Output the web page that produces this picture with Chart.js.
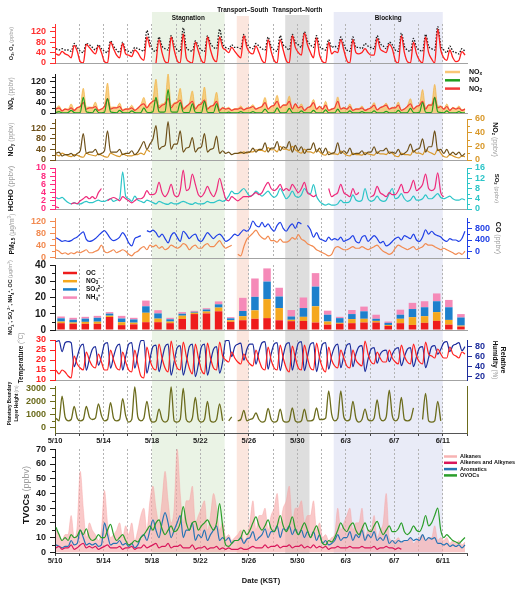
<!DOCTYPE html>
<html>
<head>
<meta charset="utf-8">
<title>Campaign time series</title>
<script src="https://cdn.jsdelivr.net/npm/chart.js@4.4.1/dist/chart.umd.min.js"></script>
<style>
  html, body { margin: 0; padding: 0; background: #fff; }
  #wrap { position: relative; width: 520px; height: 592px; overflow: hidden; }
  #wrap canvas { position: absolute; left: 0; }
</style>
</head>
<body>
<div id="wrap"></div>
<script>
// ---- Data (4 samples a day, day 0 = 5/10) ----
const N = null;
const DAYS = 34;
const HOURS = [2, 8, 14, 20];

const EPISODES = ['Stagnation', 'Transport–South', 'Transport–North', 'Blocking'];
const EPISODE_START = [8, 15, 19, 23];
const EPISODE_END = [14, 16, 21, 32];

const O3 = [
  35,30,45,35, 30,20,68,45, 5,0,72,60, 45,35,65,40,
  5,0,80,55, 30,20,75,35, 30,25,50,40, 20,10,100,60,
  N,0,90,40, 5,0,100,50, 10,0,112,20, 5,0,80,45,
  10,0,100,50, 15,5,100,60, 50,40,60,45, 30,20,105,60,
  40,35,65,40, 10,0,90,45, 10,0,90,50, 10,0,105,60,
  40,30,115,70, 40,20,97,30, 5,0,80,35, 45,40,90,50,
  10,0,90,40, 35,40,55,40, 30,30,94,55, 45,40,72,55,
  10,0,105,40, 5,0,80,35, 10,0,100,40, 15,0,130,50,
  20,10,50,20, 5,10,44,30
];
const OX = [
  55,50,55,50, 50,45,75,60, 45,40,75,70, 60,50,70,55,
  45,40,85,65, 50,40,80,50, 45,40,60,55, 50,45,125,80,
  50,45,100,65, 55,50,105,70, 50,45,135,60, 50,45,85,65,
  50,45,105,75, 60,55,130,75, 60,55,70,60, 60,55,110,75,
  60,55,75,65, 55,50,100,65, 50,45,105,70, 60,50,110,80,
  70,60,120,85, 70,60,105,65, 55,50,90,60, 65,55,100,70,
  50,45,100,60, 60,55,75,65, 60,55,105,75, 65,55,80,70,
  50,45,115,65, 50,45,95,60, 50,45,110,65, 55,50,140,70,
  50,40,65,45, 40,35,55,45
];
const NOX = [
  18,28,10,17, 15,35,13,22, 28,95,22,23, 22,42,13,17,
  30,115,22,23, 22,38,13,17, 17,30,13,20, 33,60,24,38,
  52,130,28,35, 42,150,28,40, 45,95,20,28, 38,85,19,33,
  38,100,19,28, 33,80,13,22, 17,22,12,17, 17,27,14,20,
  22,32,17,22, 28,60,18,27, 33,68,23,32, 33,65,18,37,
  22,35,12,22, 27,52,17,27, 17,45,12,17, 22,62,17,22,
  17,35,12,17, 17,27,12,17, 22,40,14,22, 27,38,17,22,
  22,42,12,17, 28,55,18,27, 34,90,19,33, 34,110,26,28,
  17,35,12,22, 17,27,12,17
];
const NO = [
  2,5,1,1, 2,10,2,1, 2,60,5,2, 1,15,2,1,
  3,55,5,2, 1,10,2,1, 1,8,2,1, 2,20,3,2,
  5,60,5,3, 5,90,5,3, 3,40,3,2, 2,35,3,2,
  2,45,3,2, 2,35,2,1, 1,3,1,1, 1,5,1,1,
  1,5,1,1, 2,15,2,1, 2,20,2,1, 2,18,2,1,
  1,8,1,1, 1,10,1,1, 1,12,1,1, 1,15,1,1,
  1,8,1,1, 1,5,1,1, 1,8,1,1, 1,6,1,1,
  1,10,1,1, 2,18,2,1, 3,40,3,2, 3,60,5,2,
  1,8,1,1, 1,5,1,1
];
const NO2 = [
  15,20,8,15, 12,20,10,20, 25,40,15,20, 20,25,10,15,
  25,55,15,20, 20,25,10,15, 15,20,10,18, 30,35,20,35,
  45,50,20,30, 35,55,20,35, 40,50,15,25, 35,45,15,30,
  35,50,15,25, 30,45,10,20, 15,18,10,15, 15,20,12,18,
  20,25,15,20, 25,40,15,25, 30,45,20,30, 30,45,15,35,
  20,25,10,20, 25,40,15,25, 15,30,10,15, 20,45,15,20,
  15,25,10,15, 15,20,10,15, 20,30,12,20, 25,30,15,20,
  20,30,10,15, 25,35,15,25, 30,45,15,30, 30,60,20,25,
  15,25,10,20, 15,20,10,15
];
const NOY = [
  25,30,15,20, 20,25,15,25, 35,100,25,30, 30,40,20,25,
  35,110,30,30, 30,40,20,25, 25,35,20,30, 50,70,40,60,
  80,130,40,50, 55,145,40,60, 60,110,30,45, 50,85,30,45,
  50,100,30,40, 45,90,25,35, 25,30,20,25, 25,30,25,30,
  30,45,30,40, 40,65,30,45, 45,70,35,50, 45,70,30,55,
  35,50,25,40, 40,65,30,45, 25,45,20,25, 30,65,25,35,
  25,45,20,25, 25,35,20,30, 30,50,25,35, 35,45,25,30,
  25,40,20,25, 35,60,30,40, 45,80,30,50, 50,110,35,40,
  25,40,20,30, 20,30,15,25
];
const NOZ = [
  8,6,10,8, 6,5,8,7, 5,4,10,8, 7,6,9,7,
  5,4,10,8, 6,5,9,7, 6,6,8,8, 10,8,15,12,
  N,N,N,N, N,N,N,N, N,N,N,N, N,N,N,N,
  N,N,N,N, N,N,N,N, N,N,N,N, 10,10,12,10,
  12,12,15,14, 14,12,18,15, 15,12,20,16, 16,14,20,15,
  12,10,16,12, 12,10,15,12, 8,7,12,9, 9,8,13,10,
  7,6,10,8, 8,7,11,9, 8,7,12,9, 9,8,12,10,
  6,5,10,8, 8,7,14,10, 10,8,15,12, 10,8,16,10,
  5,4,8,6, 4,3,6,5
];
const HCHO = [
  0.5,0.3,N,N, N,1.2,1.5,1.3, 2.0,2.5,3.0,2.5, 3.0,2.5,4.0,5.0,
  N,2.0,2.5,2.8, 2.5,2.0,3.0,2.5, 2.0,1.5,2.0,2.5, 2.5,3.0,4.5,3.5,
  3.5,4.0,6.5,4.0, 3.0,4.0,6.0,3.5, 3.0,4.5,9.5,4.5, 5.0,8.5,6.0,3.5,
  3.0,4.0,5.5,4.0, 3.0,4.5,7.5,5.0, 2.5,2.0,3.0,2.5, 2.0,2.5,3.0,3.0,
  3.0,3.5,4.0,3.5, 4.0,5.5,6.5,5.0, 4.5,5.0,6.0,4.5, 5.0,4.5,6.0,5.0,
  4.0,5.0,6.5,4.0, 3.5,3.0,3.5,N, N,N,5.0,3.0, 3.5,4.0,6.0,4.0,
  3.5,3.0,5.0,3.5, 4.0,N,N,N, 3.0,3.5,5.5,4.0, 3.5,3.0,4.0,3.5,
  3.5,4.5,6.0,4.0, 4.0,5.0,7.0,4.5, 5.0,6.0,8.5,5.0, 4.5,5.0,8.8,4.0,
  3.0,N,N,N, N,N,N,N
];
const SO2 = [
  4.5,4.0,4.5,3.5, 2.5,2.0,2.5,2.0, 2.0,2.5,3.0,2.5, 2.5,3.0,3.5,3.0,
  3.0,3.5,4.0,3.0, 3.5,4.0,14.5,5.0, 4.0,3.0,5.0,3.5, 3.0,2.5,3.5,3.0,
  2.5,2.0,3.0,2.5, 2.0,1.8,2.5,2.0, 2.0,2.5,3.0,2.5, 2.0,1.8,2.5,2.0,
  2.0,2.2,3.0,2.5, 2.5,3.0,3.5,3.0, 3.5,5.0,7.0,6.0, 6.0,7.0,8.0,6.5,
  5.0,5.5,7.0,6.0, 5.0,6.0,7.0,5.5, 4.5,5.5,8.0,6.0, 4.0,5.0,7.0,5.0,
  4.5,5.5,8.0,6.5, 6.0,9.5,5.0,3.0, 2.0,1.5,2.0,1.5, 1.5,2.0,3.5,2.5,
  2.5,3.0,5.5,3.5, 3.0,3.5,8.0,4.0, 3.0,3.5,5.0,3.5, 3.0,3.5,6.0,8.0,
  4.0,4.5,6.0,4.0, 3.0,3.5,5.0,3.5, 3.5,4.0,5.5,4.0, 4.0,5.0,6.0,4.5,
  4.0,4.5,5.0,4.0, 3.5,3.5,4.0,3.5
];
const PM25 = [
  25,20,12,15, 10,15,12,18, 15,20,25,15, 15,20,25,40,
  20,15,20,25, 15,20,25,20, 10,5,15,20, 30,35,25,40,
  35,40,30,35, 25,30,40,35, 30,35,45,40, 25,35,40,30,
  30,40,45,35, 35,45,55,40, 30,35,40,N, 10,5,35,60,
  70,80,90,75, 65,60,70,55, 55,50,60,50, 50,55,65,60,
  75,60,55,45, 40,35,25,20, 15,10,5,10, 30,35,30,25,
  25,30,35,30, 30,35,30,25, 30,35,40,30, 20,15,10,15,
  30,40,35,30, 25,30,35,25, 30,35,45,40, 40,35,30,25,
  30,25,20,15, 10,15,10,20
];
const CO = [
  480,420,350,380, 350,380,450,500, 600,680,420,350, 380,450,550,650,
  720,600,450,380, 420,500,650,520, 300,200,450,500, 550,N,720,680,
  740,650,500,600, 450,300,550,650, 500,350,700,600, 450,550,600,400,
  350,500,650,550, 450,550,600,500, 350,400,500,600, 550,650,750,700,
  800,1050,900,850, 1000,850,950,800, 700,900,1000,800, 700,850,950,800,
  1000,950,N,900, 750,500,650,450, 400,350,500,400, 450,400,500,350,
  400,450,550,350, 300,500,550,350, 450,550,450,300, 350,200,250,350,
  450,500,400,550, 500,450,600,400, 350,500,750,600, 700,600,550,500,
  400,350,450,400, 400,350,450,700
];
// daily aerosol composition (ug/m3), one bar per day
const OC  = [4.2,3.8,3.8,3.8,8.0,3.0,3.5,4.8,4.8,4.2,6.8,9.8,10.2,11.5,5.0,6.0,6.9,7.3,6.0,5.4,5.6,4.6,3.3,3.8,4.2,4.6,4.6,2.5,4.2,3.1,4.4,5.6,3.3,2.1];
const NO3 = [1.0,0.8,1.2,1.3,0.8,1.8,1.0,5.8,2.2,1.0,2.0,0.8,1.2,2.3,1.0,2.5,5.2,11.7,7.5,0.9,2.5,10.0,1.9,0.6,2.5,2.3,1.0,0.6,2.7,4.8,4.1,5.4,2.9,0.6];
const SO4 = [2.0,1.7,2.0,2.4,1.3,2.3,2.0,4.0,3.2,1.4,1.2,0.6,1.2,2.0,1.2,3.2,8.3,10.8,7.1,2.0,5.4,12.1,4.2,2.9,3.1,4.6,1.3,1.3,2.5,5.0,5.5,6.7,7.8,5.0];
const NH4 = [1.1,1.2,1.1,1.2,0.9,1.6,1.0,3.5,2.0,0.9,1.0,0.6,0.8,1.8,0.7,8.1,11.3,8.1,5.4,4.0,6.5,8.3,2.5,0.8,2.5,2.9,2.5,0.8,3.1,3.8,3.7,4.8,4.5,2.1];

const TEMP = [
  15,13,15,14, 12,11,22,18, 16,15,24,20, 17,16,23,19,
  15,15,25,20, 16,15,24,19, 15,14,25,18, 12,11,26.5,20,
  16,15,28,21, 16,14,29.5,21, 16,15,29,22, 16,13,28,21,
  15,13,28.5,21, 16,15,29,22, 20,19,24,21, 19,18,23,20,
  18,17,25,20, 16,15,26.5,20, 16,15,27.5,21, 16,14,27,21,
  16,15,27.5,21, 16,15,28.5,21, 16,14,26.5,20, 17,16,25,21,
  17,16,25,20, 18,17,29.5,23, 19,18,24,21, 19,19,25,21,
  19,18,27.5,22, 19,18,28,22, 19,18,29,23, 22,21,25.5,23,
  21,21,26.5,23, 22,21,24,23
];
const RH = [
  90,92,70,88, 90,88,40,60, 80,85,33,55, 75,80,43,60,
  85,88,37,60, 80,85,33,60, 85,88,37,65, 92,93,27,55,
  80,83,30,55, 80,85,23,50, 78,82,23,48, 80,85,20,45,
  80,85,23,50, 75,80,27,50, 92,93,60,80, 85,87,53,75,
  85,85,45,70, 88,90,35,65, 85,88,32,62, 85,88,33,62,
  87,90,32,60, 85,88,30,60, 85,88,35,62, 80,85,38,62,
  83,86,40,65, 80,82,30,55, 75,78,47,65, 72,73,50,65,
  75,78,42,60, 75,78,40,60, 78,80,38,58, 80,82,65,75,
  88,90,70,82, 85,88,72,80
];
const PBLH = [
  700,500,2400,800, 500,600,1600,700, 500,600,1600,800, 600,700,1800,900,
  500,600,1900,700, 500,600,2200,900, 400,600,3100,800, 500,700,2000,700,
  400,500,1400,600, 400,600,3100,500, 400,600,3000,600, 400,700,2300,600,
  400,600,2000,500, 400,600,1800,500, N,500,800,N, 500,600,1300,500,
  600,700,1100,600, 400,500,1450,600, 400,500,1400,500, 400,500,1500,500,
  400,500,1400,500, 500,600,1500,600, 600,700,2800,1000, 500,700,2800,800,
  500,600,2000,700, 400,600,1400,600, 500,700,2100,700, 500,800,2850,900,
  500,700,2300,600, 500,600,1500,N, N,600,2600,500, 400,500,2000,500,
  N,N,N,N, N,N,N,N
];
const ALKANES = [
  15,12,8,12, 12,25,10,18, 55,30,10,20, 15,12,8,15,
  42,20,10,12, 15,20,10,18, 12,20,8,15, 25,30,15,35,
  45,30,20,35, 55,35,20,30, 70,40,20,35, 35,45,20,25,
  30,35,15,25, 40,30,15,20, 10,12,8,10, 12,15,8,10,
  20,35,15,25, 25,30,15,25, 30,40,20,30, 35,45,20,30,
  30,35,20,25, 25,35,15,20, 10,12,8,10, 12,30,15,20,
  25,30,15,20, 20,30,10,15, 15,25,10,15, 20,40,10,8,
  8,10,6,8, 8,10,6,8, 10,12,8,10, 10,18,8,10,
  8,10,6,8, 6,8,5,7
];
const ALKENES = [
  3,4,2,3, 3,5,2,3, 5,6,3,4, 3,4,2,3,
  4,5,3,3, 3,4,2,3, 3,4,2,3, 3,5,3,4,
  5,6,3,4, 4,6,3,4, 4,5,3,3, 3,5,2,3,
  3,4,2,3, 3,4,2,3, 2,3,2,2, 2,3,2,2,
  3,4,3,3, 3,5,3,4, 4,5,3,4, 4,5,3,4,
  4,5,3,4, 3,5,3,4, 3,4,2,3, 3,4,3,3,
  3,4,3,3, 3,4,3,3, 3,4,2,3, 3,4,3,3,
  2,3,2,N, N,N,N,N, N,N,N,N, N,N,N,N,
  N,N,N,N, N,N,N,N
];
const AROMATICS = [
  5,4,3,4, 4,8,5,6, 15,10,5,6, 5,6,4,5,
  20,12,5,6, 6,8,5,6, 4,6,3,5, 10,12,8,15,
  22,15,10,20, 27,20,10,15, 20,25,10,15, 15,20,8,12,
  10,15,8,12, 15,18,8,10, 8,10,6,8, 8,10,6,9,
  10,14,8,10, 12,16,10,14, 14,18,10,16, 15,18,12,16,
  12,15,10,14, 10,14,8,12, 6,8,5,6, 8,12,8,10,
  10,14,8,12, 10,15,8,12, 10,14,8,10, 8,12,6,8,
  6,8,7,8, 8,10,8,9, 8,12,8,10, 9,10,6,6,
  5,6,4,5, 4,5,3,5
];
const OVOCS = [
  17,12,8,10, 8,12,10,11, 15,12,16,10, 8,9,12,10,
  10,15,19,12, 8,10,12,8, 5,6,8,7, 10,12,15,18,
  15,20,22,16, 12,15,18,14, 15,20,31,20, 15,20,21,15,
  18,20,22,18, 15,20,33,18, 5,4,6,8, 8,10,15,12,
  15,20,24,18, 15,18,22,16, 14,18,25,18, 14,18,24,16,
  12,16,20,15, 10,14,18,12, 6,5,8,7, 10,15,20,16,
  14,18,20,15, 12,16,20,15, 14,18,21,16, 12,15,18,14,
  14,16,20,14, 12,14,18,15, 14,18,25,18, 20,25,30,15,
  10,12,10,8, 7,6,8,10
];

// ---- Layout & style ----
const FONT = "'Liberation Sans', Arial, Helvetica, sans-serif";
const PAGE_W = 520, PAGE_H = 592;
const LEFT_W = 55, RIGHT_W = 53;
const PAD_T = 14, PAD_B = 12;
const X_MIN = 0, X_MAX = DAYS;
const INK = '#111111', UNIT_GRAY = '#9a9a9a', BASELINE = '#a3a3a3', DASH_GRAY = '#b3b3b3';
const BAND_BOTTOM = 553;
const EPISODE_STYLE = [
  { fill: '#eaf3e5', top: 12, labelY: 18.5 },
  { fill: '#fbe6de', top: 16, labelY: 10.5 },
  { fill: '#dedede', top: 15, labelY: 10.5 },
  { fill: '#e9ebf7', top: 12, labelY: 18.5 }
];

Chart.defaults.font.family = FONT;
Chart.defaults.font.weight = 'bold';

const wrap = document.getElementById('wrap');

function dayOf(i) {
  return Math.floor(i / HOURS.length) + HOURS[i % HOURS.length] / 24;
}
function pts(arr) {
  return arr.map((v, i) => ({ x: dayOf(i), y: v }));
}
function dateLabel(d) {
  const t = new Date(2024, 4, 10 + d);
  return (t.getMonth() + 1) + '/' + t.getDate();
}
function isMajor(v, step) {
  return Math.abs(v / step - Math.round(v / step)) < 1e-6;
}

// rich text: _x / _{..} subscript, ^x / ^{..} superscript
function parseRich(str) {
  const out = [];
  let buf = '', i = 0;
  while (i < str.length) {
    const ch = str[i];
    if (ch === '_' || ch === '^') {
      if (buf) { out.push({ t: buf, m: '' }); buf = ''; }
      let t;
      if (str[i + 1] === '{') { const j = str.indexOf('}', i); t = str.slice(i + 2, j); i = j + 1; }
      else { t = str[i + 1]; i += 2; }
      out.push({ t, m: ch });
    } else { buf += ch; i++; }
  }
  if (buf) out.push({ t: buf, m: '' });
  return out;
}
function richRun(str, weight, color) {
  return parseRich(str).map(s => ({ ...s, w: weight, c: color }));
}
function segFont(s, size) {
  return `${s.w} ${s.m ? size * 0.68 : size}px ${FONT}`;
}
function richWidth(ctx, segs, size) {
  return segs.reduce((w, s) => { ctx.font = segFont(s, size); return w + ctx.measureText(s.t).width; }, 0);
}
function drawRich(ctx, segs, x, y, size) {
  ctx.textAlign = 'left';
  ctx.textBaseline = 'middle';
  segs.forEach(s => {
    ctx.font = segFont(s, size);
    ctx.fillStyle = s.c;
    const dy = s.m === '_' ? size * 0.28 : s.m === '^' ? -size * 0.32 : 0;
    ctx.fillText(s.t, x, y + dy);
    x += ctx.measureText(s.t).width;
  });
}

// ---- Plugins ----
const minorTicksPlugin = {
  id: 'minorTicks',
  afterDraw(chart) {
    const ctx = chart.ctx;
    Object.values(chart.scales).forEach(s => {
      const o = s.$spec;
      if (!o || !o.minor) return;
      const right = s.position === 'right';
      const edge = right ? s.left : s.right;
      ctx.save();
      ctx.strokeStyle = o.color;
      ctx.lineWidth = 1;
      for (let v = Math.ceil(o.min / o.minor - 1e-9) * o.minor; v <= o.max + 1e-9; v += o.minor) {
        if (isMajor(v, o.major)) continue;
        const y = Math.round(s.getPixelForValue(v)) + 0.5;
        ctx.beginPath();
        ctx.moveTo(edge, y);
        ctx.lineTo(edge + (right ? 3 : -3), y);
        ctx.stroke();
      }
      ctx.restore();
    });
  }
};

function titlesPlugin(lines) {
  return {
    id: 'axisTitles',
    afterDraw(chart) {
      const { ctx, chartArea } = chart;
      const cy = (chartArea.top + chartArea.bottom) / 2;
      lines.forEach(l => {
        const segs = richRun(l.name, 'bold', INK);
        if (l.unit) segs.push(...richRun(' ' + l.unit, 'normal', UNIT_GRAY));
        const w = richWidth(ctx, segs, l.size);
        ctx.save();
        ctx.translate(l.x, cy + (l.dy || 0));
        ctx.rotate(l.side === 'right' ? Math.PI / 2 : -Math.PI / 2);
        drawRich(ctx, segs, -w / 2, 0, l.size);
        ctx.restore();
      });
    }
  };
}

function legendPlugin(spec, canvasTop) {
  return {
    id: 'richLegend',
    afterDraw(chart) {
      const ctx = chart.ctx;
      spec.items.forEach((di, k) => {
        const ds = chart.data.datasets[di];
        const y = spec.y - canvasTop + k * spec.dy;
        ctx.save();
        ctx.strokeStyle = ds.legendColor || ds.borderColor || ds.backgroundColor;
        ctx.lineWidth = spec.lw;
        ctx.beginPath();
        ctx.moveTo(spec.x, y);
        ctx.lineTo(spec.x + spec.len, y);
        ctx.stroke();
        drawRich(ctx, richRun(ds.label, 'bold', INK), spec.x + spec.len + spec.gap, y, spec.size);
        ctx.restore();
      });
    }
  };
}

const episodePlugin = {
  id: 'episodes',
  beforeDraw(chart) {
    const ctx = chart.ctx;
    const xs = chart.scales.x;
    EPISODES.forEach((name, i) => {
      const st = EPISODE_STYLE[i];
      const x0 = xs.getPixelForValue(EPISODE_START[i]);
      const x1 = xs.getPixelForValue(EPISODE_END[i]);
      ctx.fillStyle = st.fill;
      ctx.fillRect(x0, st.top, x1 - x0, BAND_BOTTOM - st.top);
      ctx.font = `bold 6.4px ${FONT}`;
      ctx.fillStyle = INK;
      ctx.textAlign = 'center';
      ctx.textBaseline = 'middle';
      ctx.fillText(name, (x0 + x1) / 2, st.labelY);
    });
  }
};

// ---- Scales ----
function xScale(mode, stacked) {
  const labels = mode !== 'none';
  return {
    type: 'linear', min: X_MIN, max: X_MAX, offset: false, stacked: !!stacked,
    afterBuildTicks(s) {
      const t = [];
      for (let v = X_MIN; v <= X_MAX; v += 2) t.push({ value: v });
      s.ticks = t;
    },
    afterFit(s) { s.height = mode === 'none' ? 0 : (mode === 'dates' ? 14 : 36); },
    ticks: {
      display: labels, autoSkip: false, maxRotation: 0, padding: 0, color: '#222',
      font: { size: 7.5, weight: 'bold' },
      callback: v => (v % 4 === 0 && v < X_MAX ? dateLabel(v) : '')
    },
    grid: {
      offset: false, drawTicks: labels, tickLength: 3, tickColor: '#444', lineWidth: 1,
      color: c => (c.tick && c.tick.value > X_MIN && c.tick.value < X_MAX ? DASH_GRAY : 'rgba(0,0,0,0)')
    },
    border: { display: true, color: labels ? '#555' : BASELINE, width: 1, dash: [2, 2] },
    title: mode === 'title'
      ? { display: true, text: 'Date (KST)', color: INK, font: { size: 7.5, weight: 'bold' }, padding: { top: 0, bottom: 4 } }
      : { display: false }
  };
}

function yScale(o, side) {
  const right = side === 'right';
  return {
    type: 'linear', position: side, min: o.min, max: o.max, stacked: !!o.stacked,
    afterBuildTicks(s) {
      s.$spec = o;
      const t = [];
      if (o.bare) t.push({ value: o.min });
      else for (let v = Math.ceil(o.min / o.major - 1e-9) * o.major; v <= o.max + 1e-9; v += o.major) t.push({ value: Math.round(v * 1e6) / 1e6 });
      s.ticks = t;
    },
    afterFit(s) { s.width = right ? RIGHT_W : LEFT_W; },
    ticks: {
      display: !o.bare, autoSkip: false, padding: right ? 3 : 4, color: o.color,
      font: { size: o.font || 9, weight: 'bold' },
      callback: v => String(v)
    },
    grid: { drawOnChartArea: false, drawTicks: !o.bare, tickLength: 5, tickColor: o.color, color: o.color },
    border: { display: true, color: o.color, width: 1 }
  };
}

// ---- Datasets ----
function line(label, arr, color, extra) {
  return Object.assign({
    type: 'line', label, data: pts(arr), borderColor: color, backgroundColor: color,
    yAxisID: 'y', fill: false, spanGaps: false, borderWidth: 1.2, pointRadius: 0,
    cubicInterpolationMode: 'monotone'
  }, extra || {});
}
function bars(label, arr, color) {
  return {
    type: 'bar', label, data: arr.map((v, d) => ({ x: d + 0.5, y: v })),
    backgroundColor: color, borderWidth: 0, categoryPercentage: 1, barPercentage: 0.62, yAxisID: 'y'
  };
}

// ---- Panels ----
function addPanel(p) {
  const xh = p.x === 'dates' ? 14 : p.x === 'title' ? 36 : 0;
  const canvasTop = p.top - PAD_T;
  const cv = document.createElement('canvas');
  cv.width = PAGE_W;
  cv.height = p.bottom - p.top + PAD_T + PAD_B + xh;
  cv.style.top = canvasTop + 'px';
  wrap.appendChild(cv);

  const scales = { x: xScale(p.x || 'none', p.type === 'bar'), y: yScale(p.left, 'left') };
  if (p.right) scales.y2 = yScale(p.right, 'right');

  const plugins = [minorTicksPlugin, titlesPlugin(p.titles)];
  if (p.legend) plugins.push(legendPlugin(p.legend, canvasTop));

  return new Chart(cv, {
    type: p.type || 'line',
    data: { datasets: p.datasets },
    options: {
      responsive: false, animation: false, devicePixelRatio: 1,
      layout: { padding: { left: 0, right: p.right ? 0 : RIGHT_W, top: PAD_T, bottom: PAD_B } },
      plugins: { legend: { display: false }, tooltip: { enabled: false } },
      elements: { point: { radius: 0 } },
      scales
    },
    plugins
  });
}

// background bands spanning all panels
(function addBackdrop() {
  const cv = document.createElement('canvas');
  cv.width = PAGE_W;
  cv.height = PAGE_H;
  cv.style.top = '0px';
  wrap.appendChild(cv);
  new Chart(cv, {
    type: 'line',
    data: { datasets: [] },
    options: {
      responsive: false, animation: false, devicePixelRatio: 1,
      layout: { padding: { left: LEFT_W, right: RIGHT_W, top: 0, bottom: 0 } },
      plugins: { legend: { display: false }, tooltip: { enabled: false } },
      scales: {
        x: { type: 'linear', min: X_MIN, max: X_MAX, display: false },
        y: { type: 'linear', min: 0, max: 1, display: false }
      }
    },
    plugins: [episodePlugin]
  });
})();

// O3 / Ox
addPanel({
  top: 24, bottom: 63,
  left: { min: 0, max: 150, major: 40, minor: 20, color: '#ff3030' },
  titles: [{ x: 11, name: 'O_3, O_x', unit: '(ppbv)', size: 5.6 }],
  datasets: [
    line('O_3', O3, '#ff1f1f', { order: 0, borderWidth: 1.3 }),
    line('O_x', OX, '#1a1a1a', { order: 1, borderDash: [1.5, 1.5], borderWidth: 1.3 })
  ]
});

// NOx / NO / NO2
addPanel({
  top: 74, bottom: 113,
  left: { min: 0, max: 150, major: 40, minor: 20, color: '#1a1a1a' },
  titles: [{ x: 11, name: 'NO_x', unit: '(ppbv)', size: 6.5 }],
  legend: { items: [0, 1, 2], x: 445, y: 72, dy: 8.3, len: 15, gap: 9, size: 7, lw: 2.5 },
  datasets: [
    line('NO_x', NOX, 'rgba(242,176,64,0.85)', { order: 3, fill: 'origin', backgroundColor: 'rgba(247,190,88,0.72)', borderWidth: 0.8, legendColor: '#f8c676' }),
    line('NO', NO, '#1f9e1f', { order: 0 }),
    line('NO_2', NO2, '#f23a3a', { order: 1 })
  ]
});

// NOy / NOz
addPanel({
  top: 119, bottom: 160,
  left: { min: 0, max: 155, major: 40, minor: 20, color: '#6e5019' },
  right: { min: 0, max: 60, major: 20, minor: 10, color: '#d9992b' },
  titles: [
    { x: 11, name: 'NO_y', unit: '(ppbv)', size: 6.8 },
    { x: 495, side: 'right', name: 'NO_z', unit: '(ppbv)', size: 7 }
  ],
  datasets: [
    line('NO_y', NOY, '#6e5019', { order: 0 }),
    line('NO_z', NOZ, '#d9992b', { order: 1, yAxisID: 'y2' })
  ]
});

// HCHO / SO2
addPanel({
  top: 168, bottom: 209,
  left: { min: 0, max: 10, major: 2, minor: 1, color: '#ff2a7f' },
  right: { min: 0, max: 16, major: 4, minor: 2, color: '#2cc5c8' },
  titles: [
    { x: 11, name: 'HCHO', unit: '(ppbv)', size: 7.5 },
    { x: 497, side: 'right', name: 'SO_2', unit: '(ppbv)', size: 6 }
  ],
  datasets: [
    line('HCHO', HCHO, '#ee2a7b', { order: 0 }),
    line('SO_2', SO2, '#2cc5c8', { order: 1, yAxisID: 'y2' })
  ]
});

// PM2.5 / CO
addPanel({
  top: 218, bottom: 258,
  left: { min: -2.3, max: 130, major: 40, minor: 20, color: '#f28a50' },
  right: { min: -215, max: 1152, major: 400, minor: 200, color: '#1f3fe6' },
  titles: [
    { x: 12, name: 'PM_{2.5}', unit: '(μg/m^3)', size: 6.8, dy: -4 },
    { x: 498, side: 'right', name: 'CO', unit: '(ppbv)', size: 7 }
  ],
  datasets: [
    line('PM_{2.5}', PM25, '#f28a50', { order: 1 }),
    line('CO', CO, '#1f3fe6', { order: 0, yAxisID: 'y2' })
  ]
});

// aerosol composition
addPanel({
  type: 'bar',
  top: 265, bottom: 330,
  left: { min: 0, max: 40, major: 10, minor: 5, color: '#1a1a1a', stacked: true, font: 10 },
  titles: [{ x: 11, name: 'NO_3^−, SO_4^{2−}, NH_4^+, OC', unit: '(μg/m^3)', size: 5.4 }],
  legend: { items: [0, 1, 2, 3], x: 63, y: 273, dy: 8.2, len: 14, gap: 9, size: 6.5, lw: 2.5 },
  datasets: [
    bars('OC', OC, '#ee1c1c'),
    bars('NO_3^−', NO3, '#f5a81e'),
    bars('SO_4^{2−}', SO4, '#1d80cc'),
    bars('NH_4^+', NH4, '#f58ab8')
  ]
});

// temperature / RH
addPanel({
  top: 340, bottom: 380,
  left: { min: 10, max: 30, major: 5, color: '#ff2020' },
  right: { min: 13.4, max: 93.4, major: 20, color: '#1c2c9c' },
  titles: [
    { x: 21, name: 'Temperature', unit: '(°C)', size: 6.3, dy: -2 },
    { x: 503, side: 'right', name: 'Relative', size: 7 },
    { x: 495, side: 'right', name: 'Humidity', unit: '(%)', size: 6.3 }
  ],
  datasets: [
    line('Temperature', TEMP, '#ff2020', { order: 0 }),
    line('RH', RH, '#1c2c9c', { order: 1, yAxisID: 'y2' })
  ]
});

// PBLH
addPanel({
  top: 386, bottom: 433, x: 'dates',
  left: { min: -438, max: 3177, major: 1000, minor: 500, color: '#6b6b1c' },
  right: { min: 0, max: 1, bare: true, color: '#6b6b1c' },
  titles: [
    { x: 10, name: 'Planetary Boundary', size: 4.6, dy: -6 },
    { x: 17, name: 'Layer Height', unit: '(m)', size: 4.6, dy: -6 }
  ],
  datasets: [line('PBLH', PBLH, '#6b6b1c', { borderWidth: 1.3 })]
});

// VOC groups
addPanel({
  top: 449, bottom: 553, x: 'title',
  left: { min: -0.5, max: 70.2, major: 10, minor: 5, color: '#1a1a1a' },
  titles: [{ x: 27, name: 'TVOCs', unit: '(ppbv)', size: 9, dy: -6 }],
  legend: { items: [0, 1, 2, 3], x: 444, y: 456.5, dy: 6.3, len: 13, gap: 3, size: 5.5, lw: 2.5 },
  datasets: [
    line('Alkanes', ALKANES, 'rgba(246,160,160,0.7)', { order: 4, fill: 'origin', backgroundColor: 'rgba(247,165,165,0.6)', borderWidth: 0.6, legendColor: '#f7b3b3' }),
    line('Alkenes and Alkynes', ALKENES, '#d9165a', { order: 0 }),
    line('Aromatics', AROMATICS, '#2673b5', { order: 2 }),
    line('OVOCs', OVOCS, '#2a9e2a', { order: 1 })
  ]
});
</script>
</body>
</html>
